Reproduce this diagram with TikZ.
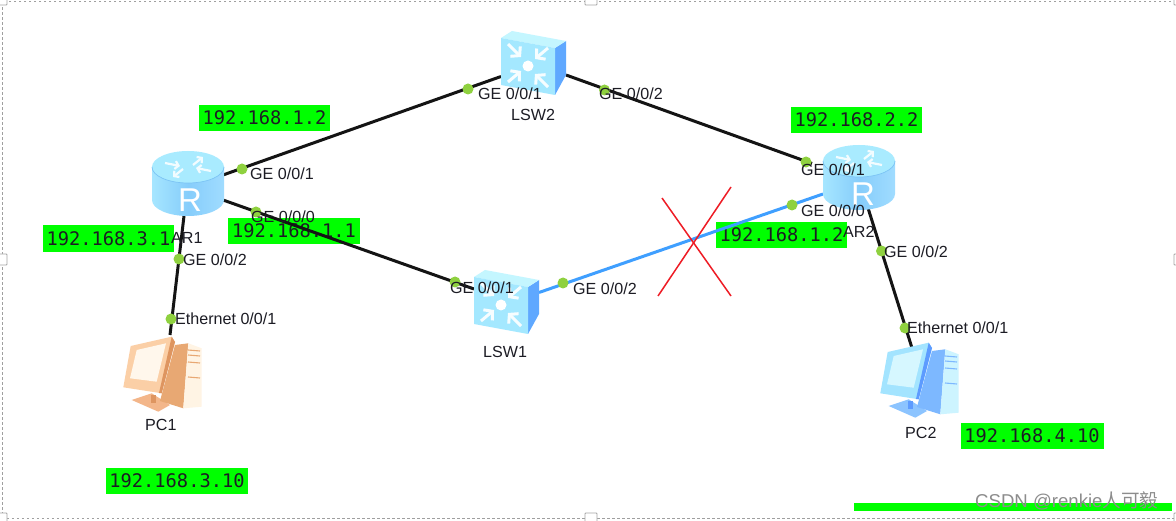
\documentclass[tikz,border=0pt]{standalone}
\usetikzlibrary{arrows.meta}
\usepackage{fontspec}
\setmainfont{Liberation Sans}
\newfontfamily\ipfont{DejaVu Sans Mono}
\newfontfamily\cjkfont{Noto Sans CJK SC}
\begin{document}
\begin{tikzpicture}[x=1pt,y=-1pt,
  ipbox/.style={fill=ipgreen,inner sep=0pt,font=\ipfont\fontsize{18.7}{20}\selectfont,text=ink},
  lbl/.style={anchor=west,inner sep=0pt,font=\fontsize{16.1}{18}\selectfont,text=ink,text height=11.5pt,text depth=0pt},
  blackl/.style={draw=linkblack,line width=3pt},
  bluel/.style={draw=linkblue,line width=3pt},
  portdot/.style={circle,fill=portgreen,inner sep=0pt,minimum size=11pt},
  device/.style={inner sep=0pt,draw=none},
  crossl/.style={draw=crossred,line width=1.5pt},
  handle/.style={draw=gray!70,fill=white,line width=.9pt,rounded corners=.8pt},
  router/.pic={
    \path[left color=rtA,right color=rtB,middle color=rtC]
      (-36,0) -- (-36,33) arc[start angle=180,end angle=0,x radius=36,y radius=16] -- (36,0) -- cycle;
    \fill[rtTop] (0,0) ellipse[x radius=36,y radius=16];
    \draw[rtEdge,line width=.7pt] (-36,0) arc[start angle=180,end angle=0,x radius=36,y radius=16];
    \foreach \a/\b/\c/\d in {-23/-4/-8/-1,23/4/8/1,5/-2/15/-10,-5/2/-15/10}{
      \draw[white!85!rtTop,line width=2.2pt,-{Straight Barb[length=3.5pt,width=8pt]}] (\a,\b) -- (\c,\d);}
  },
  switchdev/.pic={
    \fill[swSide] (54,10) -- (65,3) -- (65,37) -- (54,57) -- cycle;
    \fill[swTop] (0,0) -- (11,-7) -- (65,3) -- (54,10) -- cycle;
    \fill[swFront] (0,0) -- (54,10) -- (54,57) -- (0,47) -- cycle;
    \fill[white] (27,28) ellipse[x radius=5.5,y radius=5.5];
    \foreach \a/\b/\c/\d in {7/6/20/19,47/10/34/21,7/44/20/33,47/49/34/36}{
      \draw[white!90!swFront,line width=3pt,-{Straight Barb[length=6pt,width=14pt]}] (\a,\b) -- (\c,\d);}
  },
  pcdev/.pic={
    \fill[pcBase] (41.7,90) -- (61.7,83.3) -- (80,95) -- (68.3,101.7) -- cycle;
    \fill[pcDark] (61,85) -- (66,85) -- (66,93) -- (61,93) -- cycle;
    \fill[pcSide] (85,35) -- (98.3,33.3) -- (93.3,98.3) -- (70,91) -- cycle;
    \fill[pcTower] (98.3,33.3) -- (111.7,38.3) -- (111.7,96.7) -- (93.3,98.3) -- cycle;
    \foreach \u in {40,45,52,67}{\draw[pcSide,line width=1.1pt] (98,\u) -- (110,\u+1);}
    \fill[pcFrame] (40.7,36) -- (81.7,26.7) -- (85,32) -- (71.7,83.3) -- (33.3,77.3) -- cycle;
    \fill[pcDark] (81.7,26.7) -- (85,32) -- (71.7,83.3) -- (69,83) -- cycle;
    \fill[pcScreen] (46.7,40) -- (76,33.3) -- (66.7,71.7) -- (40,68.3) -- cycle;
  }
]
\definecolor{ipgreen}{HTML}{00FF00}
\definecolor{ink}{HTML}{1C1C24}
\definecolor{linkblack}{HTML}{141414}
\definecolor{linkblue}{HTML}{3F9FFF}
\definecolor{portgreen}{HTML}{8FD13F}
\definecolor{crossred}{HTML}{EE1C25}
\definecolor{rtA}{HTML}{A6E6FF}
\definecolor{rtC}{HTML}{86CDFB}
\definecolor{rtB}{HTML}{A0DCFF}
\definecolor{rtTop}{HTML}{A9EBFF}
\definecolor{rtEdge}{HTML}{7CC4F5}
\definecolor{swFront}{HTML}{A4E8FF}
\definecolor{swTop}{HTML}{C4F6FF}
\definecolor{swSide}{HTML}{5FA8FF}
\useasboundingbox (0,0) rectangle (1176,521);
\fill[white] (0,0) rectangle (1176,521);

% selection frame
\draw[gray!75,line width=.8pt,dash pattern=on 2.5pt off 2.5pt] (1176,1) -- (2.5,1) -- (2.5,518) -- (1174,518);

% address boxes
\node[ipbox,minimum width=131pt,minimum height=26pt] (ipA) at (264.5,118) {192.168.1.2};
\node[ipbox,minimum width=131pt,minimum height=27pt] (ipB) at (108.5,238.5) {192.168.3.1};
\node[ipbox,minimum width=132pt,minimum height=26pt] (ipC) at (294,231) {192.168.1.1};
\node[ipbox,minimum width=131pt,minimum height=26pt] (ipD) at (856.5,120) {192.168.2.2};
\node[ipbox,minimum width=131pt,minimum height=26pt] (ipE) at (781.5,235) {192.168.1.2};
\node[ipbox,minimum width=143pt,minimum height=26pt] (ipF) at (1032,436) {192.168.4.10};
\node[ipbox,minimum width=142pt,minimum height=26pt] (ipG) at (177,481) {192.168.3.10};
\fill[ipgreen] (854,503) rectangle (1172,511);

% device extents
\node[device,minimum width=72pt,minimum height=65pt] (AR1) at (188,183.5) {};
\node[device,minimum width=72pt,minimum height=63pt] (AR2) at (859,176.5) {};
\node[device,minimum width=65pt,minimum height=64pt] (LSW2) at (533.5,63) {};
\node[device,minimum width=65pt,minimum height=64pt] (LSW1) at (506.5,300) {};
\node[device,minimum width=78pt,minimum height=78pt] (PC1) at (163,374) {};
\node[device,minimum width=78pt,minimum height=78pt] (PC2) at (920,380) {};

% links
\draw[blackl] ([shift={(35,-8.5)}]AR1.center) -- ([shift={(-32.5,13.5)}]LSW2.center);
\draw[blackl] ([shift={(32.5,12)}]LSW2.center) -- ([shift={(-47,-13)}]AR2.center);
\draw[blackl] ([shift={(35,16.5)}]AR1.center) -- ([shift={(-32.5,-11)}]LSW1.center);
\draw[bluel] ([shift={(32.5,-7.5)}]LSW1.center) -- ([shift={(-36,17.5)}]AR2.center);
\draw[blackl] ([shift={(-4,32.5)}]AR1.center) -- ([shift={(7,-39)}]PC1.center);
\draw[blackl] ([shift={(9,31.5)}]AR2.center) -- ([shift={(-8,-32)}]PC2.center);

% devices
\pic at (188,167) {router};
\pic at (859,161) {router};
\pic at (501,38) {switchdev};
\pic at (474,277) {switchdev};
\begin{scope}[shift={(90,310)}]
  \definecolor{pcBase}{HTML}{F3B68A}
  \definecolor{pcDark}{HTML}{DE9560}
  \definecolor{pcSide}{HTML}{E8A873}
  \definecolor{pcTower}{HTML}{FFF4E4}
  \definecolor{pcFrame}{HTML}{FBCFA6}
  \definecolor{pcScreen}{HTML}{FFF7EC}
  \pic at (0,0) {pcdev};
\end{scope}
\begin{scope}[shift={(847,316)}]
  \definecolor{pcBase}{HTML}{8CC4FF}
  \definecolor{pcDark}{HTML}{5D9BFF}
  \definecolor{pcSide}{HTML}{7DB8FF}
  \definecolor{pcTower}{HTML}{CDF4FF}
  \definecolor{pcFrame}{HTML}{A3E4FF}
  \definecolor{pcScreen}{HTML}{D6F7FF}
  \pic at (0,0) {pcdev};
\end{scope}
\node[inner sep=0pt,text=white,font=\fontsize{33}{35}\selectfont] (rA) at (190,200) {R};
\node[inner sep=0pt,text=white,font=\fontsize{33}{35}\selectfont] (rB) at (863,194) {R};

% port dots
\node[portdot] (d1) at (242,169) {};
\node[portdot] (d2) at (256,212) {};
\node[portdot] (d3) at (179,259) {};
\node[portdot] (d4) at (171,319) {};
\node[portdot] (d5) at (468,89) {};
\node[portdot] (d6) at (604.5,90) {};
\node[portdot] (d7) at (806,162) {};
\node[portdot] (d8) at (792,205) {};
\node[portdot] (d9) at (881.5,251) {};
\node[portdot] (d10) at (905,328) {};
\node[portdot] (d11) at (455,282) {};
\node[portdot] (d12) at (563,283) {};

% labels
\node[lbl] (l1) at (250,174) {GE 0/0/1};
\node[lbl] (l2) at (251,217) {GE 0/0/0};
\node[lbl] (l3) at (183,260) {GE 0/0/2};
\node[lbl] (l4) at (175,319) {Ethernet 0/0/1};
\node[lbl] (l5) at (478,94) {GE 0/0/1};
\node[lbl] (l6) at (599,94) {GE 0/0/2};
\node[lbl] (l7) at (511,115) {LSW2};
\node[lbl] (l8) at (171,238) {AR1};
\node[lbl] (l9) at (801,170) {GE 0/0/1};
\node[lbl] (l10) at (801,211) {GE 0/0/0};
\node[lbl] (l11) at (843,232) {AR2};
\node[lbl] (l12) at (884,252) {GE 0/0/2};
\node[lbl] (l13) at (907,328) {Ethernet 0/0/1};
\node[lbl] (l14) at (450,288) {GE 0/0/1};
\node[lbl] (l15) at (573,289) {GE 0/0/2};
\node[lbl] (l16) at (483,352) {LSW1};
\node[lbl] (l17) at (145,425) {PC1};
\node[lbl] (l18) at (905,433) {PC2};

% red cross
\coordinate (xa) at (662,198);
\coordinate (xb) at (731,296);
\coordinate (xc) at (731,187);
\coordinate (xd) at (658,296);
\draw[crossl] (xa) -- (xb);
\draw[crossl] (xc) -- (xd);

% handles
\draw[handle] (-4,-4) rectangle (7,5);
\draw[handle] (585,-5) rectangle (597,5);
\draw[handle] (1174,-5) rectangle (1186,5);
\draw[handle] (-4,254) rectangle (7,265);
\draw[handle] (1174,254) rectangle (1186,265);
\draw[handle] (585,513) rectangle (597,525);
\draw[handle] (1174,513) rectangle (1186,525);
\draw[handle] (-4,513) rectangle (7,525);

% watermark
\node[anchor=west,inner sep=0pt,text=gray!90,font=\fontsize{18.6}{20}\selectfont] (wm) at (975,501) {CSDN @renkie{\cjkfont 人可毅}};
\end{tikzpicture}
\end{document}
